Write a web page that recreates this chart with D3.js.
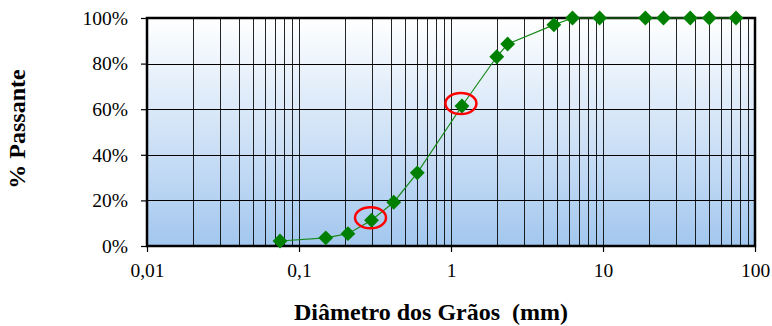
<!DOCTYPE html>
<html>
<head>
<meta charset="utf-8">
<script src="https://cdn.jsdelivr.net/npm/d3@7"></script>
</head>
<body style="margin:0">
<div id="chart"></div>
<script>
// granulometric curve - sieve sizes (mm) and % passing
var diameters = [0.075, 0.15, 0.21, 0.3, 0.42, 0.6, 1.18, 2.0, 2.36, 4.75, 6.3, 9.5, 19, 25, 37.5, 50, 75];
var passing   = [2.2, 3.6, 5.4, 11.3, 19.2, 32.1, 61.4, 83, 88.6, 97, 100, 100, 100, 100, 100, 100, 100];
var highlighted = [0.3, 1.18];
var xTickValues = [0.01, 0.1, 1, 10, 100];
var xTickLabels = ["0,01", "0,1", "1", "10", "100"];
var yTickValues = [0, 20, 40, 60, 80, 100];

var data = diameters.map(function(d, i) { return {d: d, p: passing[i]}; });

var W = 772, H = 326;
var pLeft = 147, pRight = 755, pTop = 18, pBottom = 246;
var serif = "'Liberation Serif'";

var svg = d3.select("#chart").append("svg")
  .attr("width", W)
  .attr("height", H)
  .style("font-family", serif);

var x = d3.scaleLog().domain([0.01, 100]).range([pLeft, pRight]);
var y = d3.scaleLinear().domain([0, 100]).range([pBottom, pTop]);

var defs = svg.append("defs");
var grad = defs.append("linearGradient")
  .attr("id", "bg").attr("x1", 0).attr("y1", 0).attr("x2", 0).attr("y2", 1);
grad.append("stop").attr("offset", "0%").attr("stop-color", "#ffffff");
grad.append("stop").attr("offset", "100%").attr("stop-color", "#a3c7ee");

svg.append("rect")
  .attr("x", pLeft).attr("y", pTop)
  .attr("width", pRight - pLeft).attr("height", pBottom - pTop)
  .style("fill", "url(#bg)");

// vertical grid at every log minor step
var minor = [];
[0.01, 0.1, 1, 10].forEach(function(dec) {
  for (var k = 2; k <= 9; k++) minor.push(dec * k);
});
minor = minor.concat([0.1, 1, 10]);

svg.append("g").selectAll("line")
  .data(minor)
  .enter().append("line")
  .attr("x1", function(d) { return Math.round(x(d)) + 0.5; })
  .attr("x2", function(d) { return Math.round(x(d)) + 0.5; })
  .attr("y1", pTop).attr("y2", pBottom)
  .style("stroke", "#000")
  .style("stroke-width", 1)
  .style("opacity", 0.85);

svg.append("g").selectAll("line")
  .data(yTickValues.slice(1, -1))
  .enter().append("line")
  .attr("x1", pLeft).attr("x2", pRight)
  .attr("y1", function(d) { return Math.round(y(d)) + 0.5; })
  .attr("y2", function(d) { return Math.round(y(d)) + 0.5; })
  .style("stroke", "#000")
  .style("stroke-width", 1);

// axes
var yAxis = d3.axisLeft(y)
  .tickValues(yTickValues)
  .tickFormat(function(d) { return d + "%"; })
  .tickSize(6)
  .tickPadding(13);
var gy = svg.append("g").attr("transform", "translate(" + pLeft + ",0)").call(yAxis);

var xAxis = d3.axisBottom(x)
  .tickValues(xTickValues)
  .tickFormat(function(d, i) { return xTickLabels[i]; })
  .tickSize(6)
  .tickPadding(11);
var gx = svg.append("g").attr("transform", "translate(0," + pBottom + ")").call(xAxis);

[gx, gy].forEach(function(g) {
  g.attr("font-family", null).attr("font-size", null);
  g.select(".domain").remove();
  g.selectAll("line").style("stroke", "#000").style("stroke-width", 1.2);
  g.selectAll("text").style("font-size", "19.5px").style("fill", "#000")
    .style("font-family", serif);
});

// plot frame
svg.append("rect")
  .attr("x", pLeft).attr("y", pTop)
  .attr("width", pRight - pLeft).attr("height", pBottom - pTop)
  .style("fill", "none")
  .style("stroke", "#000")
  .style("stroke-width", 2.5);

// curve
var line = d3.line()
  .x(function(d) { return x(d.d); })
  .y(function(d) { return y(d.p); });

svg.append("path")
  .datum(data)
  .attr("d", line)
  .style("fill", "none")
  .style("stroke", "#1a8a1a")
  .style("stroke-width", 1.2);

svg.append("g").selectAll("path")
  .data(data)
  .enter().append("path")
  .attr("d", d3.symbol().type(d3.symbolSquare).size(110))
  .attr("transform", function(d) { return "translate(" + x(d.d) + "," + y(d.p) + ") rotate(45)"; })
  .style("fill", "#008000");

// red marks
svg.append("g").selectAll("ellipse")
  .data(data.filter(function(d) { return highlighted.indexOf(d.d) >= 0; }))
  .enter().append("ellipse")
  .attr("cx", function(d) { return x(d.d) - 1; })
  .attr("cy", function(d) { return y(d.p) - 2.5; })
  .attr("rx", 15.5)
  .attr("ry", 10.5)
  .style("fill", "none")
  .style("stroke", "#ff0000")
  .style("stroke-width", 2.5);

// titles
svg.append("text")
  .attr("x", 431).attr("y", 320)
  .attr("text-anchor", "middle")
  .style("font-family", serif)
  .style("font-size", "24px")
  .style("font-weight", "bold")
  .style("white-space", "pre")
  .text("Diâmetro dos Grãos  (mm)");

svg.append("text")
  .attr("transform", "translate(25,129) rotate(-90)")
  .attr("text-anchor", "middle")
  .style("font-family", serif)
  .style("font-size", "24px")
  .style("font-weight", "bold")
  .text("% Passante");
</script>
</body>
</html>
